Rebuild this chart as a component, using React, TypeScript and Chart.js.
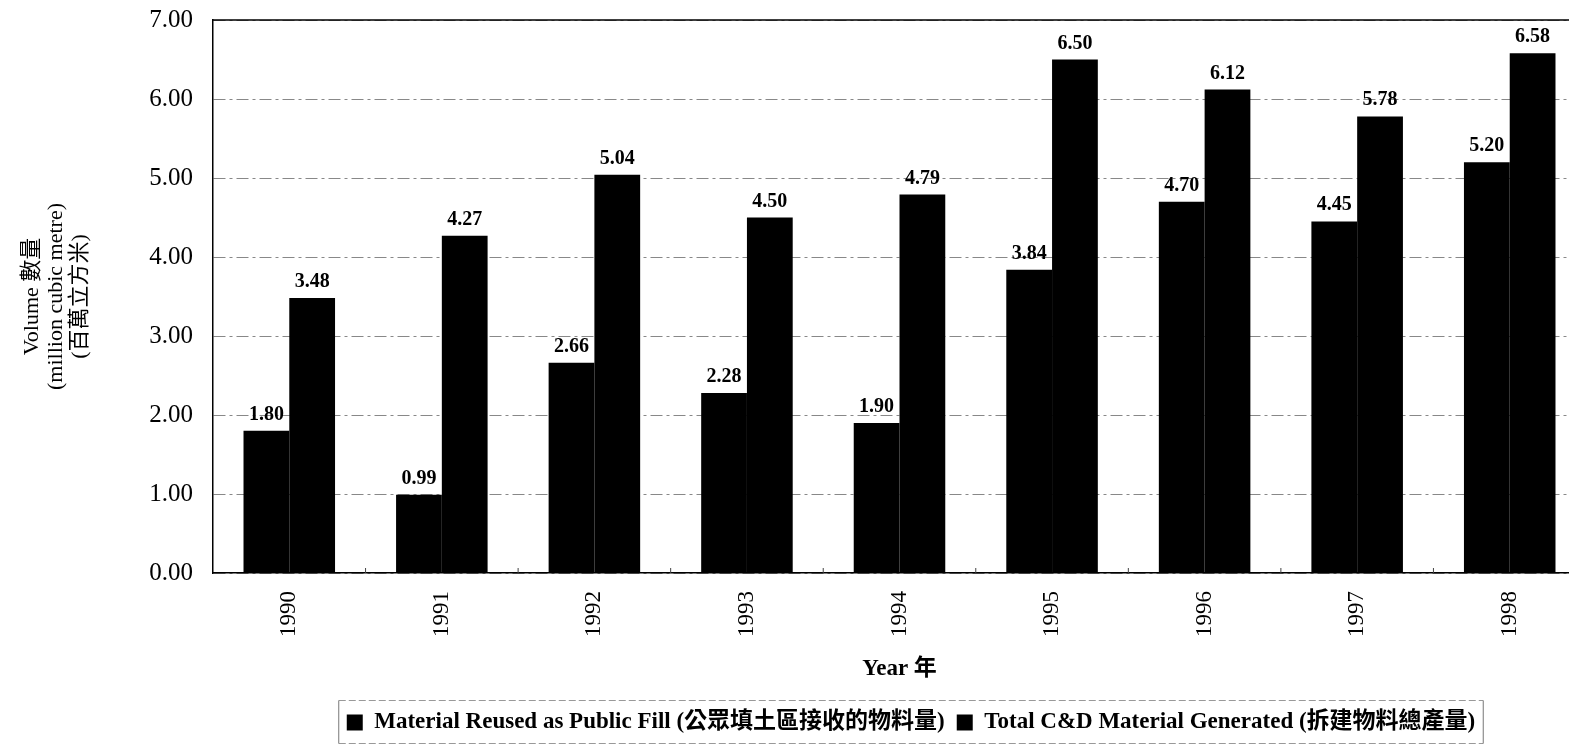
import React, { useEffect, useRef } from "react";
import { Chart, registerables } from "chart.js";

Chart.register(...registerables);

// ---- data ----
const years = ["1990", "1991", "1992", "1993", "1994", "1995", "1996", "1997", "1998"];
const reusedAsFill = [1.8, 0.99, 2.66, 2.28, 1.9, 3.84, 4.7, 4.45, 5.2];
const totalGenerated = [3.48, 4.27, 5.04, 4.5, 4.79, 6.5, 6.12, 5.78, 6.58];
const seriesNames = [
  "Material Reused as Public Fill (公眾填土區接收的物料量)",
  "Total C&D Material Generated (拆建物料總產量)",
];
const yTitleLines = ["Volume 數量", "(million cubic metre)", "(百萬立方米)"];
const xTitleText = "Year 年";
const yMin = 0;
const yMax = 7;
const yStep = 1;

const SERIF = '"Liberation Serif", "Noto Sans CJK TC", serif';

const valueLabels = {
  id: "valueLabels",
  afterDatasetsDraw(chart: any) {
    const ctx = chart.ctx;
    ctx.save();
    ctx.font = `bold 20px ${SERIF}`;
    ctx.fillStyle = "#000";
    ctx.textAlign = "center";
    ctx.textBaseline = "alphabetic";
    chart.data.datasets.forEach((ds: any, i: number) => {
      const meta = chart.getDatasetMeta(i);
      meta.data.forEach((bar: any, j: number) => {
        ctx.fillText(Number(ds.data[j]).toFixed(2), bar.x, bar.y - 11);
      });
    });
    ctx.restore();
  },
};

const frameDecor = {
  id: "frameDecor",
  afterLayout(chart: any) {
    const lg = chart.legend;
    if (lg) {
      const dx = 118;
      const dy = 6;
      lg.left += dx;
      lg.right += dx;
      lg.top += dy;
      lg.bottom += dy;
    }
  },
  afterDraw(chart: any) {
    const ctx = chart.ctx;
    const area = chart.chartArea;
    const xs = chart.scales.x;
    ctx.save();
    // top frame line
    ctx.strokeStyle = "#000";
    ctx.lineWidth = 1.5;
    ctx.beginPath();
    ctx.moveTo(area.left, area.top);
    ctx.lineTo(area.right, area.top);
    ctx.stroke();
    // small inner ticks between categories
    ctx.lineWidth = 1;
    ctx.strokeStyle = "#444";
    for (let i = 1; i < years.length; i++) {
      const x = (xs.getPixelForValue(i - 1) + xs.getPixelForValue(i)) / 2;
      ctx.beginPath();
      ctx.moveTo(x, area.bottom);
      ctx.lineTo(x, area.bottom - 5);
      ctx.stroke();
    }
    // legend frame
    const lg = chart.legend;
    if (lg && lg.legendHitBoxes && lg.legendHitBoxes.length) {
      const hb = lg.legendHitBoxes;
      let l = Infinity, r = -Infinity, t = Infinity, b = -Infinity;
      hb.forEach((h: any) => {
        l = Math.min(l, h.left);
        r = Math.max(r, h.left + h.width);
        t = Math.min(t, h.top);
        b = Math.max(b, h.top + h.height);
      });
      const cy = (t + b) / 2;
      ctx.strokeStyle = "#999";
      ctx.lineWidth = 1;
      ctx.setLineDash([7, 3]);
      ctx.beginPath();
      ctx.moveTo(l - 8, cy - 22);
      ctx.lineTo(r + 8, cy - 22);
      ctx.moveTo(l - 8, cy + 21);
      ctx.lineTo(r + 8, cy + 21);
      ctx.stroke();
      ctx.setLineDash([]);
      ctx.strokeStyle = "#777";
      ctx.beginPath();
      ctx.moveTo(l - 8, cy - 22);
      ctx.lineTo(l - 8, cy + 21);
      ctx.moveTo(r + 8, cy - 22);
      ctx.lineTo(r + 8, cy + 21);
      ctx.stroke();
    }
    ctx.restore();
  },
};

export default function App() {
  const ref = useRef<HTMLCanvasElement | null>(null);

  useEffect(() => {
    if (!ref.current) return;
    const chart = new Chart(ref.current, {
      type: "bar",
      data: {
        labels: years,
        datasets: [
          {
            label: seriesNames[0],
            data: reusedAsFill,
            backgroundColor: "#000",
            borderWidth: 0,
            categoryPercentage: 0.6,
            barPercentage: 1.0,
          },
          {
            label: seriesNames[1],
            data: totalGenerated,
            backgroundColor: "#000",
            borderWidth: 0,
            categoryPercentage: 0.6,
            barPercentage: 1.0,
          },
        ],
      },
      options: {
        responsive: false,
        animation: false,
        devicePixelRatio: 1,
        layout: { padding: { top: 20, left: 0, right: 0, bottom: 9 } },
        plugins: {
          tooltip: { enabled: false },
          title: { display: false },
          legend: {
            position: "bottom",
            labels: {
              boxWidth: 16,
              boxHeight: 16,
              padding: 12,
              color: "#000",
              font: { family: SERIF, size: 23, weight: "bold" },
            },
          },
        },
        scales: {
          x: {
            grid: { display: false, drawTicks: false },
            border: { display: true, color: "#000", width: 1.5 },
            ticks: {
              color: "#000",
              font: { family: SERIF, size: 23 },
              minRotation: 90,
              maxRotation: 90,
              padding: 18,
            },
            title: {
              display: true,
              text: xTitleText,
              color: "#000",
              font: { family: SERIF, size: 23, weight: "bold" },
              padding: { top: 4, bottom: 10 },
            },
            afterFit(scale: any) {
              scale.height = 120;
            },
          },
          y: {
            min: yMin,
            max: yMax,
            grid: {
              color: "#888",
              lineWidth: 1,
              drawTicks: true,
              tickLength: 17,
              tickColor: "rgba(0,0,0,0)",
            },
            border: { display: true, color: "#000", width: 1.5, dash: [12, 4, 3, 4] },
            ticks: {
              stepSize: yStep,
              color: "#000",
              font: { family: SERIF, size: 25 },
              padding: 3,
              callback: (v: any) => Number(v).toFixed(2),
            },
            title: {
              display: true,
              text: yTitleLines,
              color: "#000",
              font: { family: SERIF, size: 22, lineHeight: 1.1 },
              padding: { top: 20, bottom: 0 },
            },
            afterFit(scale: any) {
              scale.width = 213;
            },
          },
        },
      },
      plugins: [valueLabels, frameDecor],
    });
    return () => chart.destroy();
  }, []);

  return (
    <div
      style={{
        position: "fixed",
        left: 0,
        top: 0,
        width: 1569,
        height: 747,
        overflow: "hidden",
        background: "#fff",
      }}
    >
      <canvas ref={ref} width={1586} height={747} style={{ display: "block" }} />
    </div>
  );
}
